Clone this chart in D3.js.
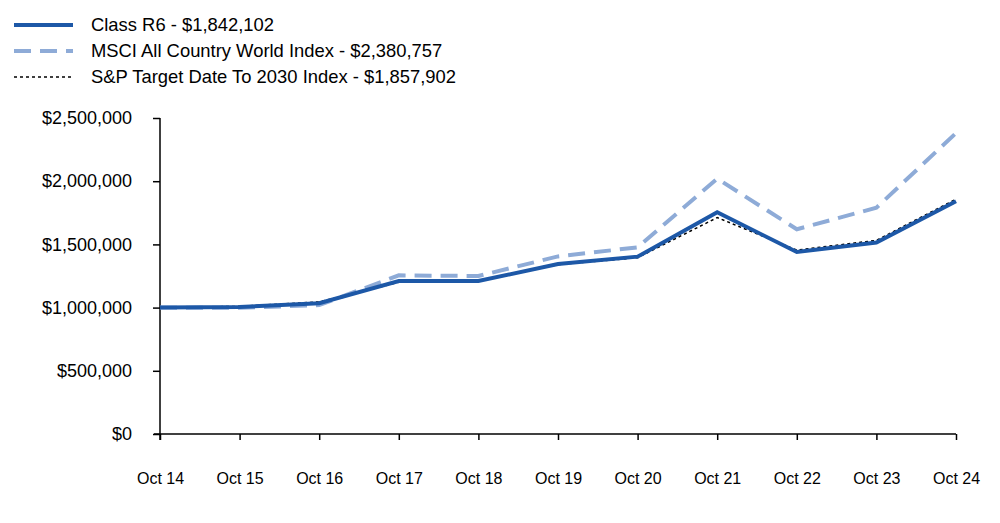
<!DOCTYPE html>
<html><head><meta charset="utf-8">
<script src="https://cdn.jsdelivr.net/npm/d3@7"></script>
<style>body{margin:0;background:#fff}svg{display:block;font-family:Arial,"Liberation Sans",sans-serif}</style>
</head><body><svg id="c" width="1000" height="523"></svg>
<script>
const categories = ["Oct 14","Oct 15","Oct 16","Oct 17","Oct 18","Oct 19","Oct 20","Oct 21","Oct 22","Oct 23","Oct 24"];
const classR6 = [1000000,1005000,1035000,1210000,1210000,1345000,1403000,1754000,1440000,1515000,1842102];
const msci = [1000000,998000,1020000,1255000,1250000,1405000,1477000,2020000,1620000,1790000,2380757];
const sp2030 = [1000000,1010000,1045000,1200000,1210000,1340000,1395000,1712000,1455000,1532000,1857902];
const yTicks = [0,500000,1000000,1500000,2000000,2500000];
const legendLabels = ["Class R6 - $1,842,102","MSCI All Country World Index - $2,380,757","S&P Target Date To 2030 Index - $1,857,902"];

const svg = d3.select("#c");
const L=160,R=956,T=118,B=434;
const x = d3.scalePoint().domain(categories).range([L,R]);
const y = d3.scaleLinear().domain([0,2500000]).range([B,T]);
const fmt = v => "$" + d3.format(",")(v);

const series = [
  {vals:classR6, color:"#1d58a7", w:4, dash:null},
  {vals:msci, color:"#8eabd7", w:4, dash:"17,9"},
  {vals:sp2030, color:"#000", w:1.5, dash:"3,3"}
];

// axes
const yAxis = svg.append("g").attr("transform",`translate(${L},0)`)
  .call(d3.axisLeft(y).tickValues(yTicks).tickFormat(fmt).tickSize(7).tickPadding(21));
yAxis.select(".domain").attr("d",`M0,${T}V${B+6}`).attr("stroke","#000").attr("stroke-width",1.5);
yAxis.selectAll(".tick line").attr("stroke","#000").attr("stroke-width",1.5);
yAxis.selectAll(".tick text").attr("font-size",18).attr("fill","#000");

const xAxis = svg.append("g").attr("transform",`translate(0,${B})`)
  .call(d3.axisBottom(x).tickSize(6).tickPadding(33));
xAxis.select(".domain").attr("d",`M${L-6},0H${R}`).attr("stroke","#000").attr("stroke-width",1.5);
xAxis.selectAll(".tick line").attr("stroke","#000").attr("stroke-width",1.5);
xAxis.selectAll(".tick text").attr("font-size",16).attr("fill","#000");

const line = d3.line().x((d,i)=>x(categories[i])).y(d=>y(d));
// draw order: MSCI, S&P, R6 on top
[1,2,0].forEach(k=>{
  const s=series[k];
  svg.append("path").datum(s.vals).attr("d",line).attr("fill","none")
    .attr("stroke",s.color).attr("stroke-width",s.w)
    .attr("stroke-dasharray",s.dash).attr("stroke-linejoin","miter");
});

// legend
const lg = svg.append("g");
legendLabels.forEach((t,i)=>{
  const s=series[i], yy=25+26*i;
  lg.append("line").attr("x1",14).attr("x2",73).attr("y1",yy).attr("y2",yy)
    .attr("stroke",s.color).attr("stroke-width",s.w).attr("stroke-dasharray",s.dash);
  lg.append("text").attr("x",91).attr("y",yy).attr("dy","0.35em").attr("font-size",18.4).text(t);
});
</script></body></html>
